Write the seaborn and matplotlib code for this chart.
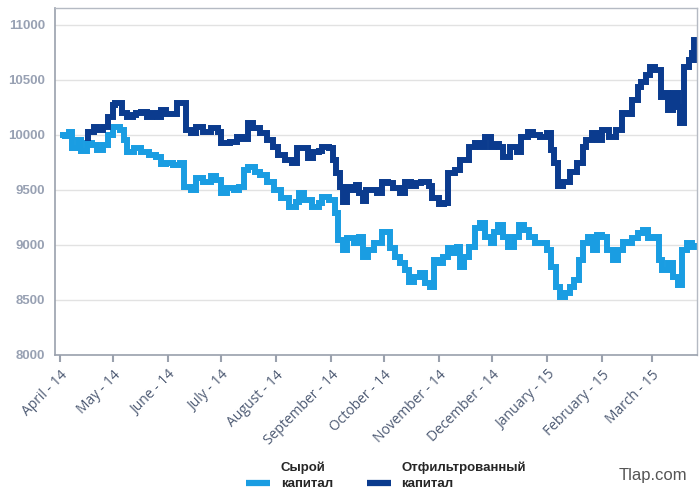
import pandas as pd
import numpy as np
import matplotlib.pyplot as plt
import seaborn as sns
from matplotlib.lines import Line2D

# values: day offset from 1 April 2014 and capital
raw_day = [0, 3, 5, 7, 10, 12, 15, 18, 21, 24, 27, 30, 34, 36, 38, 42, 46, 50, 54, 57,
           60, 64, 68, 70, 74, 77, 81, 85, 88, 91, 94, 98, 101, 104, 106, 110, 113, 117,
           121, 125, 129, 133, 135, 138, 142, 146, 148, 152, 155, 157, 160, 162, 166, 169,
           171, 174, 177, 182, 186, 189, 192, 195, 197, 200, 203, 206, 209, 211, 213, 216,
           219, 222, 224, 226, 228, 231, 234, 237, 240, 243, 245, 247, 250, 253, 256, 259,
           262, 265, 268, 272, 275, 277, 280, 282, 285, 288, 290, 293, 295, 298, 301, 303,
           306, 309, 312, 315, 318, 320, 323, 326, 329, 332, 335, 338, 340, 343, 346, 349,
           351, 354, 357, 359]
raw_val = [10000, 9990, 10030, 9880, 9950, 9850, 9930, 9910, 9860, 9910, 10000, 10070,
           10045, 9950, 9845, 9880, 9845, 9820, 9800, 9740, 9745, 9730, 9745, 9530, 9500,
           9610, 9575, 9625, 9590, 9470, 9520, 9500, 9530, 9680, 9710, 9665, 9635, 9575,
           9500, 9425, 9345, 9390, 9470, 9410, 9345, 9380, 9435, 9410, 9290, 9045, 8955,
           9060, 9020, 9075, 8890, 8955, 9020, 9120, 8970, 8890, 8835, 8770, 8665, 8710,
           8745, 8655, 8620, 8865, 8835, 8890, 8970, 8925, 8985, 8800, 8890, 8985, 9155,
           9200, 9075, 9020, 9120, 9180, 9075, 8985, 9075, 9180, 9135, 9075, 9020, 9020,
           8955, 8800, 8620, 8530, 8560, 8620, 8680, 8865, 9020, 9075, 8955, 9090, 9075,
           8955, 8865, 8955, 9030, 9020, 9065, 9110, 9135, 9065, 9075, 8865, 8775, 8835,
           8710, 8640, 8955, 9020, 8985, 9020]

filt_day = [14, 16, 19, 21, 24, 27, 30, 31, 35, 38, 41, 43, 46, 49, 52, 55, 57, 60, 66,
            69, 71, 74, 77, 81, 85, 89, 91, 96, 100, 103, 106, 109, 113, 117, 120, 123,
            127, 131, 134, 137, 140, 143, 146, 148, 152, 154, 156, 158, 160, 162, 165, 167,
            169, 171, 173, 175, 179, 182, 185, 188, 192, 195, 198, 201, 204, 208, 210, 214,
            217, 219, 223, 226, 229, 231, 234, 237, 240, 243, 245, 248, 250, 254, 258, 260,
            264, 267, 271, 275, 277, 279, 281, 284, 288, 292, 295, 297, 300, 303, 306, 310,
            314, 317, 320, 323, 326, 328, 331, 333, 336, 339, 341, 343, 346, 349, 350, 352,
            355, 357, 358, 359]
filt_val = [9970, 10030, 10075, 10045, 10075, 10165, 10270, 10290, 10200, 10165, 10180,
            10200, 10210, 10165, 10200, 10165, 10225, 10190, 10290, 10290, 10045, 10015,
            10075, 10030, 10060, 10030, 9925, 9940, 9985, 9960, 10110, 10060, 10015, 9955,
            9890, 9820, 9775, 9745, 9880, 9880, 9790, 9845, 9850, 9890, 9880, 9775, 9655,
            9530, 9390, 9530, 9500, 9545, 9470, 9400, 9500, 9500, 9470, 9575, 9560, 9520,
            9470, 9575, 9540, 9565, 9575, 9540, 9430, 9370, 9380, 9655, 9680, 9775, 9775,
            9890, 9925, 9890, 9985, 9890, 9920, 9890, 9800, 9890, 9845, 9985, 10030, 10000,
            9985, 10015, 9865, 9745, 9540, 9570, 9660, 9745, 9890, 9955, 10015, 9955, 10045,
            9985, 10045, 10200, 10190, 10320, 10435, 10480, 10545, 10620, 10590, 10345,
            10380, 10225, 10380, 10255, 10110, 10620, 10680, 10745, 10865, 10650]

month_labels = ['April - 14', 'May - 14', 'June - 14', 'July - 14', 'August - 14',
                'September - 14', 'October - 14', 'November - 14', 'December - 14',
                'January - 15', 'February - 15', 'March - 15']
series_names = ['Сырой', 'Отфильтрованный']
colors = ['#1a9de2', '#0b3b8e']

start = pd.Timestamp('2014-04-01')
df = pd.concat([
    pd.DataFrame({'date': start + pd.to_timedelta(raw_day, unit='D'), 'value': raw_val,
                  'series': series_names[0]}),
    pd.DataFrame({'date': start + pd.to_timedelta(filt_day, unit='D'), 'value': filt_val,
                  'series': series_names[1]}),
])

sns.set_style('white')
fig = plt.figure(figsize=(7, 4.93), dpi=100)
ax = fig.add_axes([0.0786, 0.28, 0.917, 0.704])

sns.lineplot(data=df, x='date', y='value', hue='series', palette=colors,
             estimator=None, sort=False, linewidth=4.3, drawstyle='steps-post',
             solid_joinstyle='miter', solid_capstyle='butt', legend=False, ax=ax)

ax.set_ylim(8000, 11155)
ax.set_xlim(start - pd.Timedelta(days=2.8), start + pd.Timedelta(days=359.5))
ax.set_yticks(np.arange(8000, 11001, 500))
ax.yaxis.grid(True, color='#e2e2e2', linewidth=1)
ax.set_axisbelow(True)
ax.set_xlabel('')
ax.set_ylabel('')

ticks = pd.date_range('2014-04-01', periods=12, freq='MS')
ax.set_xticks(ticks)
ax.set_xticklabels(month_labels, rotation=45, ha='right', rotation_mode='anchor',
                   fontsize=10, color='#4d5a73', family='Open Sans')
for lab in ax.get_yticklabels():
    lab.set_fontweight('bold')
    lab.set_color('#98a1b3')
    lab.set_fontsize(9.5)
    lab.set_family('Liberation Sans')
ax.tick_params(axis='x', length=5, width=1.5, color='#9aa1ad', direction='out',
               pad=4, bottom=True)
ax.tick_params(axis='y', length=0, pad=7)
for side in ['left', 'bottom']:
    ax.spines[side].set_color('#9aa1ad')
    ax.spines[side].set_linewidth(1.2)
for side in ['top', 'right']:
    ax.spines[side].set_color('#b5bac3')
    ax.spines[side].set_linewidth(1)

legend_font = {'family': ['Liberation Sans', 'DejaVu Sans'], 'weight': 'bold', 'size': 9.5}
handles = [Line2D([], [], color=c, linewidth=4.5, solid_capstyle='butt') for c in colors]
leg = fig.legend(handles, ['капитал', 'капитал'], loc='center left',
                 bbox_to_anchor=(0.352, 0.018), ncol=2, frameon=False,
                 borderpad=0, borderaxespad=0, handlelength=1.8, columnspacing=2.6,
                 handletextpad=0.8, prop=legend_font)
fig.canvas.draw()
# first word of each legend label sits on its own line above "капитал"
for txt, name in zip(leg.get_texts(), series_names):
    note = plt.Annotation(name, xy=(0, 1), xycoords=txt, xytext=(0, 3),
                          textcoords='offset points', ha='left', va='bottom',
                          fontsize=9.5, fontweight='bold',
                          family=['Liberation Sans', 'DejaVu Sans'])
    note.set_zorder(10)
    fig.add_artist(note)

fig.text(0.982, 0.035, 'Tlap.com', ha='right', va='center', fontsize=12,
         color='#555555', family='Liberation Sans')

fig.savefig('out.png', dpi=100)
